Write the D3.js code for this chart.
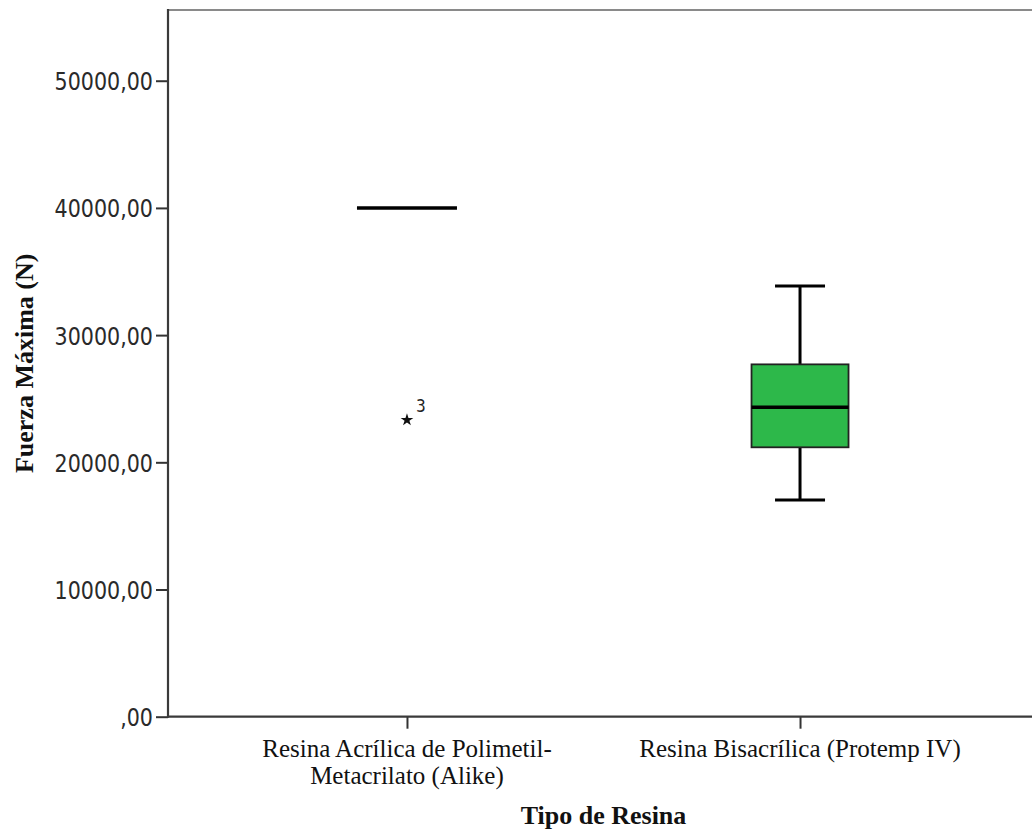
<!DOCTYPE html>
<html>
<head>
<meta charset="utf-8">
<script src="https://cdn.jsdelivr.net/npm/d3@7"></script>
<style>
  html, body { margin: 0; padding: 0; background: #fff; }
  svg { display: block; }
</style>
</head>
<body>
<script>
// ---- data ----
const categories = ["alike", "protemp"];
const categoryLabels = [
  ["Resina Acrílica de Polimetil-", "Metacrilato (Alike)"],
  ["Resina Bisacrílica (Protemp IV)"]
];
const whiskerLow  = [40000, 17040];
const quartile1   = [40000, 21180];
const medians     = [40000, 24320];
const quartile3   = [40000, 27700];
const whiskerHigh = [40000, 33860];
const outlierValues = [[23330], []];
const outlierLabels = [["3"], []];
const yTicks = [0, 10000, 20000, 30000, 40000, 50000];
const yTickLabels = [",00", "10000,00", "20000,00", "30000,00", "40000,00", "50000,00"];
const xTitle = "Tipo de Resina";
const yTitle = "Fuerza Máxima (N)";

(function () {
const W = 1032, H = 832;
const svg = d3.select("body").append("svg").attr("width", W).attr("height", H);

const pLeft = 168, pRight = 1039, pTop = 10, pBottom = 716.7;
const y = d3.scaleLinear().domain([0, 55560]).range([pBottom, pTop]);
const x = d3.scalePoint().domain(categories).range([pLeft, pRight]).padding(0.608);

const boxW = 97, capW = 50;
const green = "#2db84a";

svg.append("line").attr("x1", pLeft).attr("x2", pRight).attr("y1", pTop).attr("y2", pTop)
  .attr("stroke", "#8a8a8a").attr("stroke-width", 2);

const data = categories.map((c, i) => ({
  c, lo: whiskerLow[i], q1: quartile1[i], med: medians[i], q3: quartile3[i], hi: whiskerHigh[i],
  out: outlierValues[i], outLab: outlierLabels[i]
}));

const g = svg.append("g");
data.forEach(d => {
  const cx = x(d.c);
  const gg = g.append("g");
  gg.append("line").attr("x1", cx).attr("x2", cx).attr("y1", y(d.hi)).attr("y2", y(d.q3))
    .attr("stroke", "#000").attr("stroke-width", 3);
  gg.append("line").attr("x1", cx).attr("x2", cx).attr("y1", y(d.q1)).attr("y2", y(d.lo))
    .attr("stroke", "#000").attr("stroke-width", 3);
  if (d.hi !== d.q3) {
    gg.append("line").attr("x1", cx - capW/2).attr("x2", cx + capW/2).attr("y1", y(d.hi)).attr("y2", y(d.hi))
      .attr("stroke", "#000").attr("stroke-width", 3);
  }
  if (d.lo !== d.q1) {
    gg.append("line").attr("x1", cx - capW/2).attr("x2", cx + capW/2).attr("y1", y(d.lo)).attr("y2", y(d.lo))
      .attr("stroke", "#000").attr("stroke-width", 3);
  }
  if (d.q3 !== d.q1) {
    gg.append("rect").attr("x", cx - boxW/2).attr("width", boxW)
      .attr("y", y(d.q3)).attr("height", y(d.q1) - y(d.q3))
      .attr("fill", green).attr("stroke", "#222").attr("stroke-width", 1.8);
    gg.append("line").attr("x1", cx - boxW/2).attr("x2", cx + boxW/2).attr("y1", y(d.med)).attr("y2", y(d.med))
      .attr("stroke", "#000").attr("stroke-width", 3.5);
  } else {
    gg.append("line").attr("x1", cx - 50).attr("x2", cx + 50).attr("y1", y(d.med)).attr("y2", y(d.med))
      .attr("stroke", "#000").attr("stroke-width", 3.5);
  }
  d.out.forEach((v, k) => {
    gg.append("path").attr("d", d3.symbol(d3.symbolStar, 50)())
      .attr("transform", `translate(${cx},${y(v)})`).attr("fill", "#111");
    gg.append("text").text(d.outLab[k])
      .attr("transform", `translate(${cx + 9},${y(v) - 8}) scale(0.9,1)`)
      .attr("font-family", "DejaVu Sans").attr("font-size", 17).attr("fill", "#222");
  });
});

const yAxis = d3.axisLeft(y).tickValues(yTicks).tickSize(12).tickPadding(3)
  .tickFormat((d, i) => yTickLabels[i]);
const ya = svg.append("g").attr("transform", `translate(${pLeft},0)`).call(yAxis);
ya.select(".domain").remove();
ya.selectAll(".tick line").attr("stroke", "#333").attr("stroke-width", 2);
ya.selectAll(".tick text")
  .attr("font-family", "DejaVu Sans").attr("font-size", 24).attr("fill", "#2a2a2a")
  .attr("x", null).attr("dy", null)
  .attr("transform", "translate(-15,9) scale(0.86,1)");
svg.append("line").attr("x1", pLeft).attr("x2", pLeft).attr("y1", pTop - 1).attr("y2", pBottom + 1)
  .attr("stroke", "#3a3a3a").attr("stroke-width", 2.2);

const xAxis = d3.axisBottom(x).tickSize(12).tickFormat("");
const xa = svg.append("g").attr("transform", `translate(0,${pBottom})`).call(xAxis);
xa.select(".domain").remove();
xa.selectAll(".tick line").attr("stroke", "#333").attr("stroke-width", 2);
svg.append("line").attr("x1", pLeft - 1).attr("x2", W).attr("y1", pBottom).attr("y2", pBottom)
  .attr("stroke", "#3a3a3a").attr("stroke-width", 2.2);

categories.forEach((c, i) => {
  const t = svg.append("text").attr("text-anchor", "middle")
    .attr("font-family", "Liberation Serif").attr("font-size", 25).attr("fill", "#111");
  categoryLabels[i].forEach((line, k) => {
    t.append("tspan").attr("x", x(c)).attr("y", 757 + k * 27).text(line);
  });
});

svg.append("text").text(xTitle)
  .attr("x", (pLeft + pRight) / 2).attr("y", 824).attr("text-anchor", "middle")
  .attr("font-family", "Liberation Serif").attr("font-weight", "bold").attr("font-size", 26).attr("fill", "#111");
svg.append("text").text(yTitle)
  .attr("transform", `translate(33,${(pTop + pBottom) / 2}) rotate(-90)`).attr("text-anchor", "middle")
  .attr("font-family", "Liberation Serif").attr("font-weight", "bold").attr("font-size", 26).attr("fill", "#111");
})();
</script>
</body>
</html>
